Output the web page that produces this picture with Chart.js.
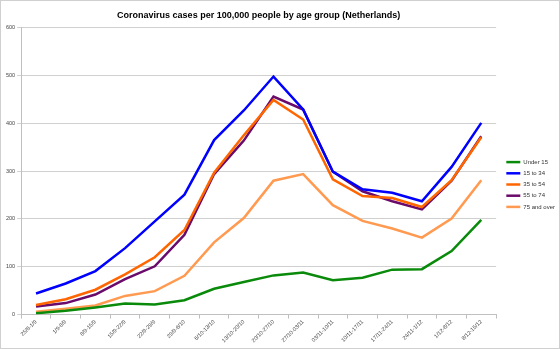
<!DOCTYPE html>
<html>
<head>
<meta charset="utf-8">
<script src="https://cdn.jsdelivr.net/npm/chart.js@4"></script>
<style>
  html, body { margin: 0; padding: 0; background: #fff; }
  #wrap { width: 560px; height: 349px; box-sizing: border-box; border: 1px solid #d0d0d0; }
</style>
</head>
<body>
<div id="wrap"><canvas id="chart"></canvas></div>
<script>
var weeks = ['25/8-1/9', '1/9-8/9', '8/9-15/9', '15/9-22/9', '22/9-29/9', '29/9-6/10',
  '6/10-13/10', '13/10-20/10', '20/10-27/10', '27/10-03/11', '03/11-10/11',
  '10/11-17/11', '17/11-24/11', '24/11-1/12', '1/12-8/12', '8/12-15/12'];

var under15 = [3, 8, 15, 23, 21, 30, 54, 68, 82, 88, 72, 77, 94, 95, 133, 198];
var age15to34 = [44, 65, 91, 139, 195, 251, 365, 427, 498, 429, 299, 262, 255, 237, 309, 401];
var age35to54 = [20, 32, 52, 84, 120, 177, 297, 375, 449, 408, 283, 248, 244, 225, 281, 371];
var age55to74 = [17, 24, 42, 74, 101, 167, 294, 364, 456, 429, 299, 258, 237, 220, 280, 373];
var age75plus = [6, 12, 19, 39, 49, 81, 151, 202, 280, 294, 229, 196, 180, 161, 201, 281];

var yTicks = [0, 100, 200, 300, 400, 500, 600];

function series(label, data, color) {
  return {
    label: label,
    data: data,
    borderColor: color,
    backgroundColor: color,
    borderWidth: 2.5,
    pointRadius: 0,
    pointStyle: 'line',
    tension: 0,
    fill: false
  };
}

// nudge the legend down and right a bit, like the original
const legendShift = {
  id: 'legendShift',
  afterLayout(chart) {
    chart.legend.top += 9;
    chart.legend.bottom += 9;
    chart.legend.left += 5;
    chart.legend.right += 5;
  }
};

new Chart(document.getElementById('chart'), {
  type: 'line',
  data: {
    labels: weeks,
    datasets: [
      series('Under 15', under15, '#0a8a0a'),
      series('15 to 34', age15to34, '#0000ff'),
      series('35 to 54', age35to54, '#ff6600'),
      series('55 to 74', age55to74, '#6a0a6a'),
      series('75 and over', age75plus, '#ff9a50')
    ]
  },
  options: {
    responsive: true,
    maintainAspectRatio: false,
    animation: false,
    layout: { padding: { left: 3, right: -1, top: 6, bottom: 4 } },
    plugins: {
      title: {
        display: true,
        text: 'Coronavirus cases per 100,000 people by age group (Netherlands)',
        fullSize: false,
        color: '#000',
        font: { family: 'Liberation Sans', size: 9, weight: 'bold' },
        padding: { top: 3, bottom: 7 }
      },
      legend: {
        position: 'right',
        labels: {
          usePointStyle: true,
          pointStyleWidth: 14,
          boxHeight: 6,
          padding: 5.2,
          color: '#333',
          font: { family: 'Liberation Sans', size: 6 }
        }
      },
      tooltip: { enabled: false }
    },
    scales: {
      x: {
        offset: true,
        grid: {
          offset: true,
          drawOnChartArea: false,
          tickLength: 4,
          color: '#bfbfbf'
        },
        border: { color: '#bfbfbf' },
        ticks: {
          maxRotation: 45,
          minRotation: 45,
          autoSkip: false,
          padding: 0,
          color: '#444',
          font: { family: 'Liberation Sans', size: 5.5 }
        }
      },
      y: {
        min: 0,
        max: 600,
        afterBuildTicks(axis) {
          axis.ticks = yTicks.map(function (v) { return { value: v }; });
        },
        grid: { color: '#d0d0d0', tickLength: 4 },
        border: { color: '#bfbfbf' },
        ticks: {
          padding: 2,
          color: '#444',
          font: { family: 'Liberation Sans', size: 5.5 }
        }
      }
    }
  },
  plugins: [legendShift]
});
</script>
</body>
</html>
